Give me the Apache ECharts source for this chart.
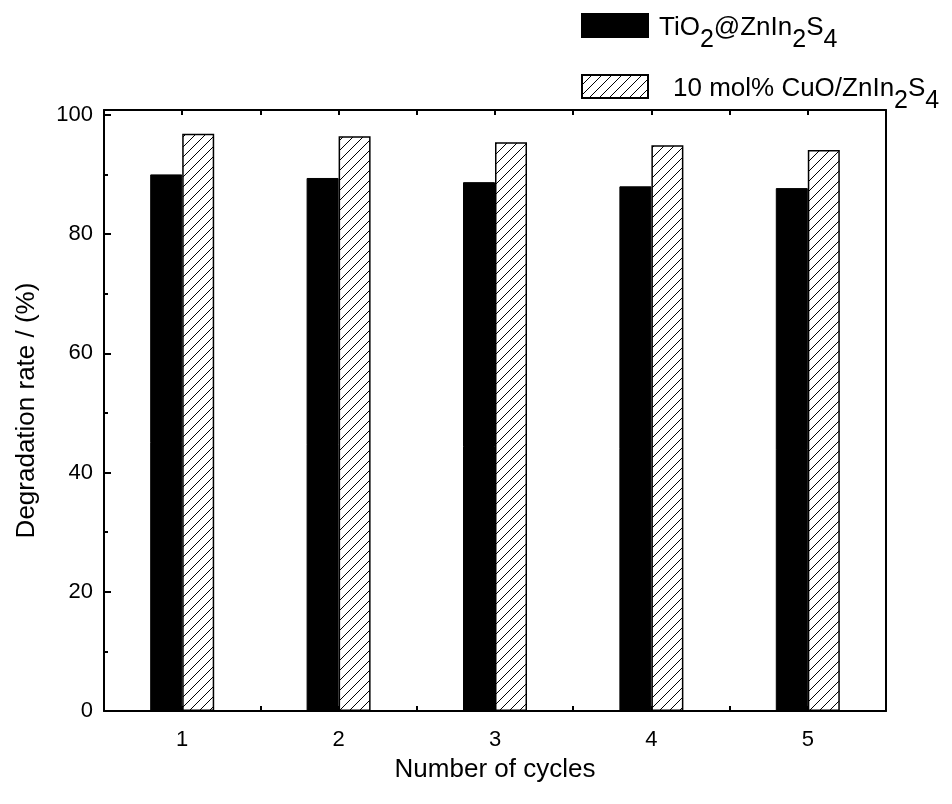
<!DOCTYPE html>
<html>
<head>
<meta charset="utf-8">
<script src="https://cdn.jsdelivr.net/npm/echarts@6/dist/echarts.min.js"></script>
<style>
  html, body { margin: 0; padding: 0; background: #fff; }
  #chart { width: 952px; height: 804px; }
</style>
</head>
<body>
<div id="chart"></div>
<script>
// Photocatalytic stability: degradation rate over repeated cycles
const cycles = [1, 2, 3, 4, 5];
const tiO2ZnIn2S4 = [90.0, 89.4, 88.7, 88.0, 87.7];
const cuoZnIn2S4 = [96.8, 96.4, 95.4, 94.9, 94.1];
const seriesNames = ['TiO2@ZnIn2S4', '10 mol% CuO/ZnIn2S4'];
const yTicks = [0, 20, 40, 60, 80, 100];

const FONT = '"Liberation Sans", Arial, sans-serif';

// diagonal "/" hatch fill
function hatchPattern() {
  const s = 10;
  const c = document.createElement('canvas');
  c.width = s; c.height = s;
  const g = c.getContext('2d');
  g.fillStyle = '#fff';
  g.fillRect(0, 0, s, s);
  g.strokeStyle = '#000';
  g.lineWidth = 1;
  g.beginPath();
  g.moveTo(0, s); g.lineTo(s, 0);
  g.moveTo(-s / 2, s / 2); g.lineTo(s / 2, -s / 2);
  g.moveTo(s / 2, s * 1.5); g.lineTo(s * 1.5, s / 2);
  g.stroke();
  return c;
}

const pairs = vals => cycles.map((c, i) => [c, vals[i]]);

// legend text with lowered subscripts
const richText = {
  f: { fontSize: 26, fontFamily: FONT, color: '#000', padding: [4, 0, 0, 6] },
  p: { fontSize: 26, fontFamily: FONT, color: '#000', padding: [4, 0, 0, 20] },
  m: { fontSize: 26, fontFamily: FONT, color: '#000', padding: [4, 0, 0, 0] },
  s: { fontSize: 25, fontFamily: FONT, color: '#000', padding: [29, 0, 0, 0] }
};
const legendLabels = {
  'TiO2@ZnIn2S4': '{f|TiO}{s|2}{m|@ZnIn}{s|2}{m|S}{s|4}',
  '10 mol% CuO/ZnIn2S4': '{p|10 mol% CuO/ZnIn}{s|2}{m|S}{s|4}'
};

function makeLegend(name, top) {
  return {
    data: [name],
    left: 581,
    top: top,
    orient: 'vertical',
    icon: 'rect',
    itemWidth: 66,
    itemHeight: 23,
    itemGap: 0,
    selectedMode: false,
    padding: 0,
    formatter: n => legendLabels[n],
    textStyle: { rich: richText, fontFamily: FONT, fontSize: 26, color: '#000' }
  };
}

const lineStyle = { color: '#000', width: 2 };

const xBase = {
  type: 'value',
  min: 0.5,
  max: 5.5,
  interval: 0.5,
  splitLine: { show: false },
  axisLine: { show: true, onZero: false, lineStyle },
  axisTick: { show: true, inside: true, length: 5, lineStyle: { color: '#000', width: 2 } }
};

const option = {
  backgroundColor: '#fff',
  animation: false,
  grid: { left: 104, right: 66, top: 110, bottom: 93, containLabel: false },
  legend: [makeLegend(seriesNames[0], 13), makeLegend(seriesNames[1], 74)],
  xAxis: [
    Object.assign({}, xBase, {
      position: 'bottom',
      name: 'Number of cycles',
      nameLocation: 'middle',
      nameGap: 46,
      nameMoveOverlap: false,
      nameTextStyle: { fontSize: 26, fontFamily: FONT, color: '#000' },
      axisLabel: {
        margin: 18,
        fontSize: 22,
        fontFamily: FONT,
        color: '#000',
        formatter: v => (cycles.indexOf(v) >= 0 ? String(v) : '')
      }
    }),
    Object.assign({}, xBase, {
      position: 'top',
      axisLabel: { show: false }
    })
  ],
  yAxis: [
    {
      type: 'value',
      position: 'left',
      min: 0,
      max: 100.8,
      interval: 20,
      splitLine: { show: false },
      axisLine: { show: true, lineStyle },
      axisTick: { show: true, inside: true, length: 7, lineStyle: { color: '#000', width: 2 } },
      minorTick: { show: true, splitNumber: 2, length: 4, lineStyle: { color: '#000', width: 2 } },
      axisLabel: {
        margin: 11,
        fontSize: 22,
        fontFamily: FONT,
        color: '#000',
        showMaxLabel: false,
        formatter: v => (yTicks.indexOf(v) >= 0 ? String(v) : '')
      },
      name: 'Degradation rate / (%)',
      nameLocation: 'middle',
      nameGap: 64,
      nameMoveOverlap: false,
      nameTextStyle: { fontSize: 26, fontFamily: FONT, color: '#000' }
    },
    {
      type: 'value',
      position: 'right',
      min: 0,
      max: 100.8,
      interval: 20,
      splitLine: { show: false },
      axisLine: { show: true, lineStyle },
      axisTick: { show: false },
      axisLabel: { show: false }
    }
  ],
  series: [
    {
      name: seriesNames[0],
      type: 'bar',
      xAxisIndex: 0,
      yAxisIndex: 0,
      barWidth: 32,
      barGap: '0%',
      data: pairs(tiO2ZnIn2S4),
      itemStyle: { color: '#000', borderColor: '#000', borderWidth: 1 }
    },
    {
      name: seriesNames[1],
      type: 'bar',
      xAxisIndex: 0,
      yAxisIndex: 0,
      barWidth: 32,
      barGap: '0%',
      data: pairs(cuoZnIn2S4),
      itemStyle: {
        color: { image: hatchPattern(), repeat: 'repeat' },
        borderColor: '#000',
        borderWidth: 1.5
      }
    }
  ]
};

const chart = echarts.init(document.getElementById('chart'), null, { renderer: 'canvas' });
chart.setOption(option);
</script>
</body>
</html>
